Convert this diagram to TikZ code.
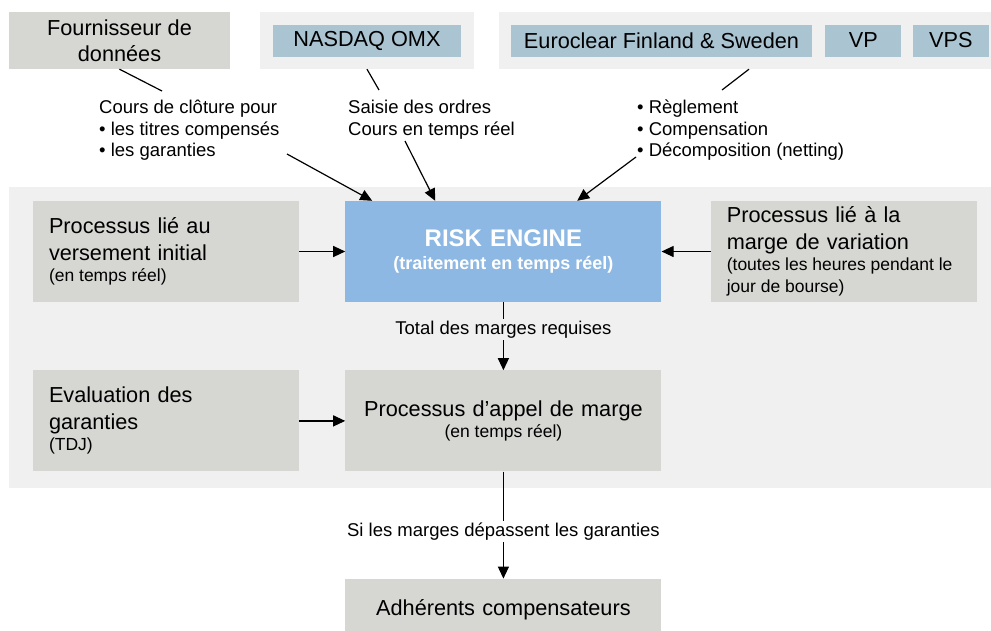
\documentclass[tikz,border=0pt]{standalone}
\usepackage{fontspec}
\setmainfont{Liberation Sans}
\usetikzlibrary{arrows.meta, positioning, calc}
\definecolor{boxgray}{RGB}{214, 214, 210}
\definecolor{panelgray}{RGB}{240, 240, 240}
\definecolor{csdblue}{RGB}{170, 196, 210}
\definecolor{engineblue}{RGB}{141, 184, 227}
\newcommand{\bigtext}{\fontsize{21.7}{26.5}\selectfont}
\newcommand{\smalltext}{\fontsize{17.5}{21.5}\selectfont\spaceskip=\fontdimen2\font\xspaceskip=\fontdimen2\font\relax}
\newcommand{\lbltext}{\fontsize{18.5}{21.5}\selectfont}
\newcommand{\enginetext}{\fontsize{24}{27}\selectfont\bfseries}
\newcommand{\enginenote}{\fontsize{18}{23.5}\selectfont\spaceskip=\fontdimen2\font\xspaceskip=\fontdimen2\font\relax}
\setlength{\parindent}{0pt}

\begin{document}
\begin{tikzpicture}[
    x=1pt, y=-1pt,
    node distance=46pt,
    srcbox/.style={
        fill=boxgray, inner sep=0pt, minimum width=221pt, minimum height=57pt,
        align=center, font=\bigtext
    },
    sourcepanel/.style={fill=panelgray, inner sep=0pt, minimum height=57pt},
    csdbox/.style={fill=csdblue, inner sep=0pt, minimum height=32pt, font=\bigtext},
    procbox/.style={
        fill=boxgray, text width=234pt, inner xsep=16pt, inner ysep=0pt,
        minimum height=101pt, align=left, font=\bigtext
    },
    midbox/.style={
        fill=boxgray, text width=300pt, inner xsep=8pt, inner ysep=0pt,
        minimum height=101pt, align=center, font=\bigtext
    },
    enginebox/.style={midbox, fill=engineblue, text=white, font=\enginetext},
    flowlabel/.style={font=\lbltext, align=left, inner sep=0pt},
    arrow/.style={-{Triangle[length=12pt, width=11pt]}, line width=1.2pt},
    link/.style={line width=1.2pt}
]
\useasboundingbox (0,0) rectangle (991,630);

% MAIN PANEL
\fill[panelgray] (9,187) rectangle (1000,488);

% SOURCES
\node[srcbox] (supplier) at (119.5,40.5) {Fournisseur de\\données};

\node[sourcepanel, minimum width=214pt] (nasdaqpanel) at (367,40.5) {};
\node[csdbox, minimum width=188pt] (nasdaq) at (nasdaqpanel) {NASDAQ OMX};

\node[sourcepanel, minimum width=500pt] (europanel) at (749,40.5) {};
\node[csdbox, minimum width=301pt] (euroclear) at (661.5,40.5) {Euroclear Finland \& Sweden};
\node[csdbox, minimum width=76pt, right=13pt of euroclear] (vp) {VP};
\node[csdbox, minimum width=76pt, right=11pt of vp] (vps) {VPS};

% FLOW LABELS
\node[flowlabel, anchor=north west] (closing) at (99,100) {Cours de clôture pour\\• les titres compensés\\• les garanties};
\node[flowlabel, anchor=north west] (orders) at (348,100) {Saisie des ordres\\Cours en temps réel};
\node[flowlabel, anchor=north west] (settle) at (637,100) {• Règlement\\• Compensation\\• Décomposition (netting)};

% PROCESS BOXES
\node[procbox] (initial) at (166,251.5) {Processus lié au\\versement initial\par{\smalltext (en temps réel)\par}};
\node[enginebox, right=of initial] (risk) {RISK ENGINE\par{\enginenote (traitement en temps réel)\par}};
\node[procbox, right=49pt of risk] (variation) {Processus lié à la\\marge de variation\par{\smalltext (toutes les heures pendant le\\jour de bourse)\par}};
\node[midbox, below=68pt of risk] (margincall) {Processus d’appel de marge\par{\smalltext (en temps réel)\par}};
\node[procbox, left=of margincall] (collateral) {Evaluation des\\garanties\par{\smalltext (TDJ)\par}};
\node[midbox, minimum height=62pt, below=107pt of margincall] (members) {Adhérents compensateurs};

% CONNECTORS: SOURCES -> LABELS
\coordinate (closingTop) at (162,91);
\coordinate (closingEnd) at (287,154);
\coordinate (ordersTop) at (379,90);
\coordinate (ordersEnd) at (405,141);
\coordinate (settleTop) at (722,90);
\coordinate (settleEnd) at (636,157);

\draw[link] (supplier.south) -- (closingTop);
\draw[link] (nasdaqpanel.south) -- (ordersTop);
\draw[link] (europanel.south) -- (settleTop);

% CONNECTORS: LABELS -> RISK ENGINE
\draw[arrow] (closingEnd) -- ($(risk.north west)+(27,0)$);
\draw[arrow] (ordersEnd) -- ($(risk.north west)+(90,0)$);
\draw[arrow] (settleEnd) -- ($(risk.north west)+(232,0)$);

% CONNECTORS: PROCESSES
\draw[arrow] (initial.east) -- (risk.west);
\draw[arrow] (variation.west) -- (risk.east);
\draw[arrow] (collateral.east) -- (margincall.west);
\draw[arrow] (risk.south) -- node[font=\lbltext, fill=panelgray, inner sep=2pt, pos=0.4] {Total des marges requises} (margincall.north);
\draw[arrow] (margincall.south) -- node[font=\lbltext, fill=white, inner sep=2pt, pos=0.56] {Si les marges dépassent les garanties} (members.north);

\end{tikzpicture}
\end{document}
